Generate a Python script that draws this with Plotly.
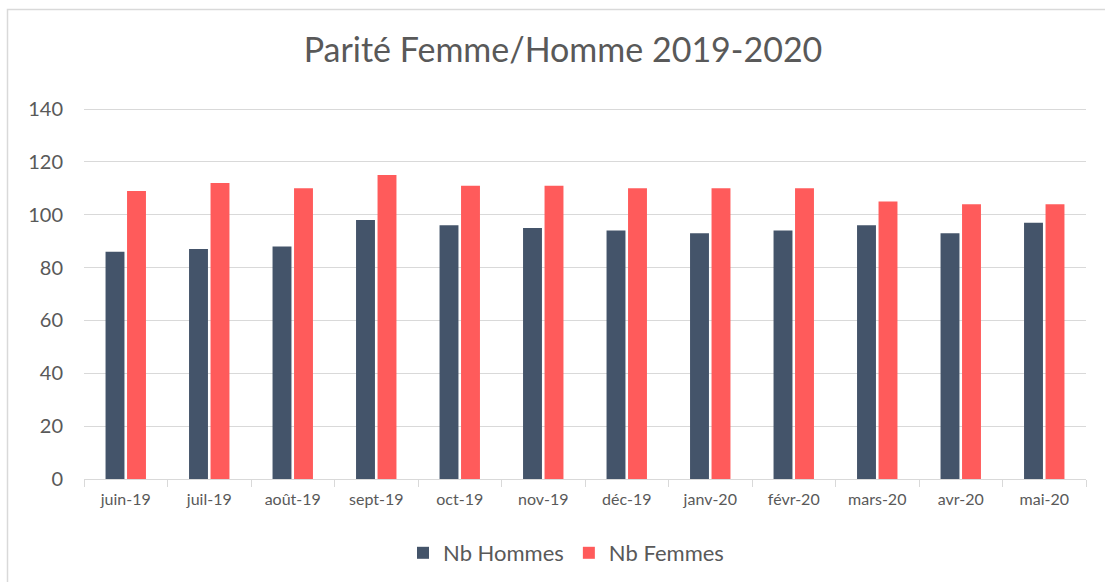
import plotly.graph_objects as go

months = ["juin-19", "juil-19", "août-19", "sept-19", "oct-19", "nov-19",
          "déc-19", "janv-20", "févr-20", "mars-20", "avr-20", "mai-20"]
nb_hommes = [86, 87, 88, 98, 96, 95, 94, 93, 94, 96, 93, 97]
nb_femmes = [109, 112, 110, 115, 111, 111, 110, 110, 110, 105, 104, 104]
y_ticks = [0, 20, 40, 60, 80, 100, 120, 140]

FONT = "Lato, 'Open Sans', sans-serif"
GREY = "#595959"

L, R, T, B = 84, 19, 108, 103
PW, PH = 1105 - L - R, 582 - T - B

fig = go.Figure()
fig.add_trace(go.Bar(x=months, y=nb_hommes, name="Nb Hommes",
                     marker=dict(color="#44546A", line=dict(width=0))))
fig.add_trace(go.Bar(x=months, y=nb_femmes, name="Nb Femmes",
                     marker=dict(color="#FF5B5B", line=dict(width=0))))

fig.update_layout(
    width=1105, height=582,
    paper_bgcolor="white", plot_bgcolor="white",
    margin=dict(l=L, r=R, t=T, b=B, autoexpand=False),
    barmode="group", bargap=0.485, bargroupgap=0.12,
    title=dict(text="Parité Femme/Homme 2019-2020", x=(563 - L) / PW, xref="paper",
               xanchor="center", y=1 - 50 / 582, yanchor="middle",
               font=dict(family=FONT, size=34, color=GREY)),
    font=dict(family=FONT, color=GREY),
    legend=dict(orientation="h", x=(566 - L) / PW, xanchor="center",
                y=-(553 - 479) / PH, yanchor="middle",
                font=dict(size=22, color=GREY), traceorder="normal"),
    xaxis=dict(showgrid=False, showline=True, linecolor="#d9d9d9", linewidth=1,
               ticks="outside", tickson="boundaries", ticklen=7, tickcolor="#d9d9d9",
               tickfont=dict(size=16, color=GREY), ticklabelstandoff=6,
               automargin=False),
    yaxis=dict(range=[0, 140.4], tickvals=y_ticks, showgrid=True, gridcolor="#d9d9d9",
               gridwidth=1, zeroline=False, showline=False, automargin=False,
               tickfont=dict(size=20, color=GREY), ticklabelstandoff=20),
    shapes=[dict(type="rect", xref="paper", yref="paper",
                 x0=(7.5 - L) / PW, x1=(1115 - L) / PW,
                 y0=-(595 - 479) / PH, y1=1 + (T - 9.5) / PH,
                 line=dict(color="#d9d9d9", width=1.5), fillcolor="rgba(0,0,0,0)",
                 layer="below")],
)

fig.write_html("out.html", config={"displayModeBar": False},
               post_script="document.body.style.margin='0';")
